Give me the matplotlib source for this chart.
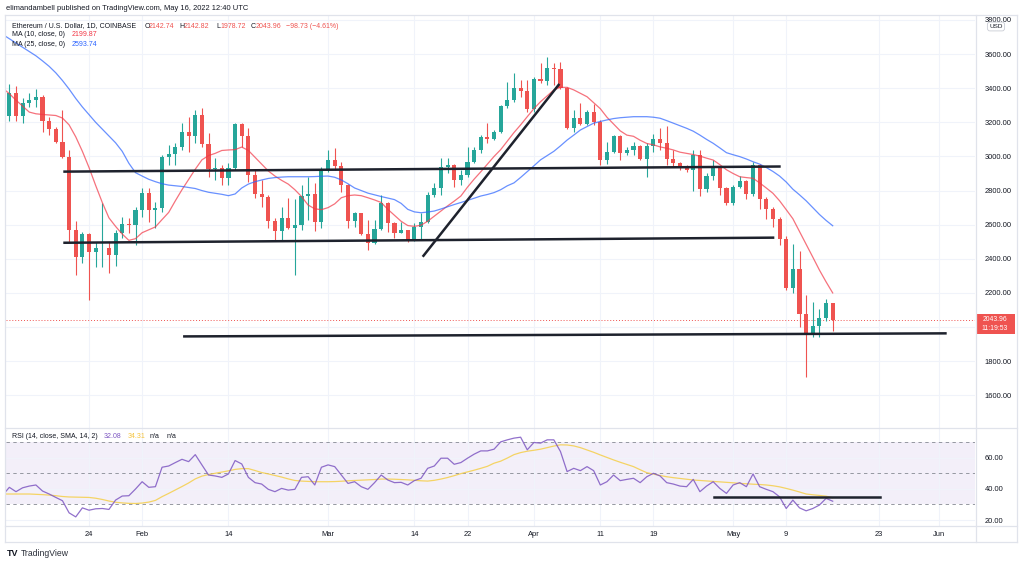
import matplotlib
matplotlib.use("Agg")
import matplotlib.pyplot as plt
import matplotlib.dates as mdates
from matplotlib.patches import Rectangle
from matplotlib.lines import Line2D
from matplotlib import transforms
import numpy as np
import pandas as pd

plt.rcParams["font.family"] = ["Liberation Sans", "DejaVu Sans"]

# ---- data (ETH/USD daily, Coinbase) ----
dates = pd.date_range("2022-01-11", "2022-05-16", freq="D")

opens = [3083, 3239, 3374, 3239, 3311, 3331, 3350, 3208, 3161, 3083,
         2999, 2569, 2412, 2544, 2442, 2462, 2465, 2422, 2550, 2604,
         2598, 2686, 2788, 2686, 2696, 2999, 3013, 3057, 3145, 3122,
         3243, 3071, 2926, 2931, 2872, 2931, 3190, 3120, 2891, 2780,
         2761, 2623, 2565, 2637, 2579, 2598, 2768, 2780, 2618, 2921,
         2979, 2944, 2833, 2623, 2667, 2545, 2491, 2573, 2725, 2608,
         2553, 2569, 2510, 2588, 2618, 2774, 2813, 2940, 2950, 2862,
         2891, 2969, 3038, 3112, 3102, 3145, 3296, 3331, 3403, 3384,
         3276, 3452, 3442, 3520, 3513, 3400, 3165, 3224, 3190, 3262,
         3204, 2979, 3028, 3120, 3018, 3038, 3061, 2983, 3061, 3101,
         3077, 2983, 2960, 2931, 2921, 3009, 2809, 2885, 2936, 2817,
         2725, 2823, 2856, 2780, 2950, 2749, 2690, 2632, 2514, 2227,
         2339, 2075, 1953, 2006, 2051, 2142.74]
highs = [3252, 3423, 3413, 3341, 3370, 3395, 3360, 3233, 3174, 3272,
         3038, 2622, 2559, 2549, 2500, 2725, 2500, 2569, 2647, 2640,
         2705, 2813, 2813, 2735, 3009, 3067, 3077, 3194, 3233, 3272,
         3282, 3136, 2989, 2950, 2960, 3194, 3195, 3165, 2921, 2862,
         2774, 2638, 2702, 2755, 2749, 2833, 2878, 2843, 2940, 3038,
         3048, 2969, 2836, 2676, 2670, 2628, 2628, 2774, 2735, 2618,
         2618, 2570, 2612, 2667, 2793, 2843, 2989, 2989, 2955, 2921,
         3054, 3057, 3126, 3194, 3155, 3302, 3435, 3487, 3448, 3448,
         3468, 3546, 3581, 3546, 3555, 3409, 3272, 3312, 3272, 3308,
         3214, 3087, 3126, 3126, 3057, 3087, 3067, 3077, 3132, 3165,
         3179, 3038, 2969, 2950, 3038, 3038, 2901, 2979, 2944, 2823,
         2833, 2885, 2862, 2969, 2955, 2761, 2705, 2647, 2534, 2485,
         2448, 2188, 2149, 2104, 2163, 2142.82]
lows = [3060, 3208, 3208, 3194, 3292, 3292, 3145, 3126, 3076, 2989,
        2500, 2305, 2374, 2159, 2354, 2354, 2315, 2360, 2520, 2549,
        2481, 2647, 2618, 2579, 2676, 2950, 2950, 3038, 3028, 3077,
        3057, 2881, 2862, 2833, 2833, 2921, 3057, 2852, 2755, 2702,
        2579, 2510, 2510, 2575, 2305, 2569, 2628, 2565, 2579, 2911,
        2920, 2793, 2579, 2588, 2540, 2452, 2487, 2569, 2559, 2520,
        2550, 2500, 2505, 2510, 2608, 2764, 2774, 2901, 2823, 2833,
        2881, 2960, 3018, 3077, 3096, 3136, 3282, 3321, 3350, 3262,
        3262, 3432, 3419, 3419, 3398, 3159, 3145, 3184, 3184, 3184,
        2950, 2956, 3018, 2979, 3009, 3009, 2979, 2881, 3028, 3038,
        2950, 2940, 2921, 2911, 2799, 2768, 2793, 2862, 2774, 2716,
        2715, 2813, 2749, 2768, 2690, 2632, 2588, 2481, 2217, 2201,
        2002, 1709, 1943, 1943, 2037, 1978.72]
closes = [3239, 3374, 3239, 3311, 3331, 3350, 3208, 3161, 3083, 2999,
          2569, 2412, 2544, 2442, 2462, 2465, 2422, 2550, 2604, 2598,
          2686, 2788, 2686, 2696, 2999, 3013, 3057, 3145, 3122, 3243,
          3071, 2926, 2931, 2872, 2931, 3190, 3120, 2891, 2780, 2761,
          2623, 2565, 2637, 2579, 2598, 2768, 2780, 2618, 2921, 2979,
          2944, 2833, 2623, 2667, 2545, 2491, 2573, 2725, 2608, 2553,
          2569, 2510, 2588, 2618, 2774, 2813, 2940, 2950, 2862, 2891,
          2969, 3038, 3112, 3102, 3145, 3296, 3331, 3403, 3384, 3276,
          3452, 3442, 3520, 3513, 3400, 3165, 3224, 3190, 3262, 3204,
          2979, 3028, 3120, 3018, 3038, 3061, 2983, 3061, 3101, 3077,
          2983, 2960, 2931, 2921, 3009, 2809, 2885, 2936, 2817, 2725,
          2823, 2856, 2780, 2950, 2749, 2690, 2632, 2514, 2227, 2339,
          2075, 1953, 2006, 2051, 2139, 2043.96]

ma10 = [3400, 3368, 3330, 3295, 3260, 3250, 3246, 3243, 3240, 3225,
        3185, 3115, 3030, 2935, 2830, 2730, 2640, 2590, 2545, 2508,
        2518, 2553, 2570, 2587, 2630, 2672, 2740, 2805, 2865, 2925,
        2980, 3005, 3018, 3035, 3038, 3040, 3055, 3035, 2995, 2955,
        2915, 2885, 2860, 2838, 2805, 2765, 2715, 2693, 2688, 2700,
        2722, 2758, 2770, 2774, 2770, 2758, 2745, 2730, 2690, 2655,
        2620, 2595, 2590, 2597, 2620, 2650, 2680, 2710, 2738, 2768,
        2820, 2867, 2910, 2955, 3000, 3040, 3090, 3140, 3185, 3233,
        3280, 3321, 3355, 3390, 3405, 3405, 3390, 3370, 3350, 3315,
        3280, 3230, 3190, 3150, 3125, 3118, 3095, 3076, 3068, 3056,
        3048, 3038, 3025, 3018, 3011, 3002, 2990, 2979, 2952, 2922,
        2900, 2881, 2876, 2872, 2845, 2815, 2784, 2740, 2688, 2635,
        2560, 2485, 2410, 2334, 2265, 2199.87]
ma25 = [3715, 3690, 3665, 3640, 3615, 3590, 3560, 3528, 3490, 3445,
        3395, 3340, 3290, 3245, 3200, 3160, 3120, 3080, 3030, 2960,
        2905, 2885, 2866, 2852, 2840, 2832, 2828, 2824, 2818, 2812,
        2800, 2790, 2784, 2778, 2770, 2780, 2815, 2838, 2852, 2862,
        2871, 2876, 2879, 2881, 2881, 2881, 2881, 2882, 2884, 2885,
        2878, 2862, 2840, 2815, 2800, 2785, 2775, 2765, 2756, 2747,
        2725, 2690, 2675, 2670, 2674, 2680, 2692, 2705, 2718, 2730,
        2742, 2755, 2768, 2777, 2788, 2805, 2828, 2845, 2877, 2911,
        2945, 2980, 3005, 3030, 3062, 3096, 3125, 3155, 3175, 3195,
        3205, 3214, 3222, 3227, 3230, 3233, 3233, 3233, 3230, 3224,
        3210, 3195, 3180, 3165, 3148, 3125, 3100, 3077, 3050, 3022,
        3010, 2999, 2985, 2969, 2955, 2935, 2912, 2885, 2850, 2808,
        2775, 2740, 2700, 2660, 2625, 2593.74]

rsi = [36.0, 41.0, 38.2, 40.7, 41.8, 42.5, 38.6, 36.7, 34.5, 32.4,
       24.6, 22.0, 27.8, 26.3, 27.2, 27.4, 26.8, 32.8, 35.4, 35.6,
       39.9, 44.6, 41.0, 41.4, 53.9, 54.7, 56.9, 59.0, 57.5, 62.0,
       55.4, 48.9, 48.3, 47.4, 49.6, 58.2, 56.0, 47.4, 44.0, 43.1,
       39.7, 38.2, 40.3, 39.2, 39.7, 47.4, 47.8, 42.5, 53.9, 55.4,
       54.3, 48.9, 43.5, 44.6, 41.4, 39.7, 44.0, 48.9, 45.7, 44.0,
       44.2, 42.5, 45.3, 46.8, 53.2, 54.7, 59.7, 59.7, 55.8, 56.9,
       59.7, 62.3, 64.4, 64.4, 65.5, 70.2, 71.5, 72.6, 73.2, 65.1,
       69.8, 69.4, 71.5, 71.5, 64.0, 51.1, 53.2, 51.7, 54.3, 51.7,
       42.5, 44.6, 48.9, 45.3, 46.1, 46.8, 44.0, 47.8, 50.0, 48.3,
       44.0, 43.1, 41.8, 41.4, 46.1, 38.2, 41.8, 44.6, 40.3, 37.1,
       42.5, 44.0, 41.4, 49.6, 41.4, 39.7, 38.2, 34.9, 27.4, 32.8,
       27.8, 25.9, 27.4, 29.6, 33.9, 32.08]
rsi_ma = [36.7, 36.7, 36.7, 36.7, 36.7, 36.5, 36.3, 36.0, 35.6, 35.1,
          34.8, 34.7, 34.6, 34.5, 34.0, 33.2, 32.2, 31.4, 31.0, 30.7,
          30.6, 30.9, 31.5, 32.6, 35.0, 37.1, 39.3, 41.5, 43.8, 46.4,
          48.2, 49.2, 50.0, 50.8, 51.6, 52.5, 53.0, 53.0, 51.8, 50.5,
          49.6, 48.6, 47.6, 46.4, 45.4, 45.0, 44.8, 44.6, 44.6, 44.6,
          44.7, 44.9, 45.2, 45.4, 45.6, 45.8, 46.0, 46.3, 46.3, 46.2,
          46.0, 45.8, 45.5, 45.2, 45.0, 45.5, 46.3, 47.3, 48.5, 49.8,
          50.9, 52.0, 53.2, 54.5, 56.5, 57.8, 59.8, 62.0, 63.3, 64.2,
          64.8, 65.5, 66.5, 67.5, 68.3, 68.2, 67.6, 66.5, 65.0, 63.5,
          61.8, 60.2, 58.6, 57.1, 55.7, 54.3, 52.3, 50.4, 49.5, 48.6,
          47.8, 47.2, 46.7, 46.2, 45.7, 45.4, 45.1, 44.8, 44.5, 44.2,
          43.9, 43.5, 43.3, 43.0, 42.8, 42.5, 42.0, 41.3, 40.3, 39.2,
          38.0, 36.7, 36.2, 35.8, 35.3, 34.31]

# hand drawn lines: (time, price) pairs
trend_lines = [
    [("2022-01-20 03:00", 2911), ("2022-05-08 04:00", 2941)],
    [("2022-01-20 03:00", 2494), ("2022-05-07 05:00", 2524)],
    [("2022-03-15 06:00", 2412), ("2022-04-04 20:00", 3425)],
    [("2022-02-07 04:00", 1945), ("2022-06-02 04:00", 1963)],
]
rsi_line = [("2022-04-28 02:00", 34.6), ("2022-05-23 02:00", 34.6)]

tick_dates = ["2022-01-24", "2022-02-01", "2022-02-14", "2022-03-01", "2022-03-14",
              "2022-03-22", "2022-04-01", "2022-04-11", "2022-04-19", "2022-05-01",
              "2022-05-09", "2022-05-23", "2022-06-01"]
tick_labels = ["24", "Feb", "14", "Mar", "14", "22", "Apr", "11", "19", "May", "9", "23", "Jun"]
price_ticks = [1600, 1800, 2000, 2200, 2400, 2600, 2800, 3000, 3200, 3400, 3600, 3800]
hidden_price_label = 2000  # covered by the last-price tag
rsi_ticks = [20, 40, 60]

# ---- style ----
UP, DOWN = "#26a69a", "#ef5350"
TXT = "#131722"
GRID = "#f0f3fa"
BORDER = "#e0e3eb"
FS = 5.4   # axis labels
LFS = 5.0  # legend lines

W, H = 1024, 565
fig = plt.figure(figsize=(W / 100, H / 100), dpi=100)
fig.patch.set_facecolor("white")


def fx(px):
    return px / W


def fy(py):
    return 1 - py / H


ax = fig.add_axes([fx(6), fy(427.7), 969 / W, 411.5 / H])
ax_rsi = fig.add_axes([fx(6), fy(526), 969 / W, 98.3 / H], sharex=ax)

x = mdates.date2num(dates)
o = np.array(opens, float)
h = np.array(highs, float)
l = np.array(lows, float)
c = np.array(closes, float)
colors = np.where(c >= o, UP, DOWN)

# candles
ax.vlines(x, l, h, colors=colors, lw=0.8, zorder=3)
body = np.maximum(np.abs(c - o), 4)
ax.bar(x, body, bottom=np.minimum(o, c), width=0.62, color=colors, lw=0, zorder=4)

ax.plot(x, ma10, color="#f23645", lw=0.9, alpha=0.7, zorder=5)
ax.plot(x, ma25, color="#2962ff", lw=0.9, alpha=0.7, zorder=5)

for seg in trend_lines:
    tx = [mdates.date2num(pd.Timestamp(t)) for t, _ in seg]
    ty = [v for _, v in seg]
    ax.plot(tx, ty, color="#1e222d", lw=1.8, solid_capstyle="butt", zorder=6)

last = closes[-1]
ax.axhline(last, color=DOWN, lw=0.7, ls=(0, (1, 2)), zorder=2)

x0 = mdates.date2num(pd.Timestamp("2022-01-11")) + 0.497
x1 = mdates.date2num(pd.Timestamp("2022-06-06")) + 0.43
ax.set_xlim(x0, x1)
ax.set_ylim(1409.9, 3822.1)

ax.set_yticks(price_ticks)
ax.set_yticklabels(["" if v == hidden_price_label else f"{v:.2f}" for v in price_ticks])
ax.yaxis.tick_right()
ax.tick_params(axis="y", length=0, pad=7, labelsize=FS, labelcolor=TXT)
tick_x = [mdates.date2num(pd.Timestamp(d)) for d in tick_dates]
ax.set_xticks(tick_x)
ax.tick_params(axis="x", length=0, labelbottom=False)
ax.grid(True, color=GRID, lw=0.8, zorder=0)
for s in ax.spines.values():
    s.set_visible(False)

# current price tag on the scale
blend = transforms.blended_transform_factory(ax.transAxes, ax.transData)
upp = (3822.1 - 1409.9) / 411.5  # price per pixel
ax.add_patch(Rectangle((1.001, last - 14 * upp), 39 / 969, 19.5 * upp, transform=blend,
                       facecolor=DOWN, edgecolor="none", clip_on=False, zorder=10))
ax.text(1 + 20 / 969, last + 0.5 * upp, f"{last:.2f}", transform=blend, ha="center",
        va="center", color="white", fontsize=4.9, clip_on=False, zorder=11)
ax.text(1 + 20 / 969, last - 8.6 * upp, "11:19:53", transform=blend, ha="center",
        va="center", color="white", fontsize=4.9, clip_on=False, zorder=11)

# ---- RSI pane ----
ax_rsi.axhspan(30, 70, color="#7e57c2", alpha=0.09, lw=0, zorder=1)
for lev in (30, 50, 70):
    ax_rsi.axhline(lev, color="#9598a1", lw=0.7, ls=(0, (3.5, 3.5)), zorder=2)
ax_rsi.plot(x, rsi_ma, color="#f5cf4a", lw=0.9, alpha=0.85, zorder=4)
ax_rsi.plot(x, rsi, color="#7e57c2", lw=0.9, alpha=0.85, zorder=5)
rx = [mdates.date2num(pd.Timestamp(t)) for t, _ in rsi_line]
ax_rsi.plot(rx, [v for _, v in rsi_line], color="#1e222d", lw=1.8, zorder=6)

ax_rsi.set_ylim(16.15, 79.3)
ax_rsi.set_yticks(rsi_ticks)
ax_rsi.set_yticklabels([f"{v:.2f}" for v in rsi_ticks])
ax_rsi.yaxis.tick_right()
ax_rsi.tick_params(axis="y", length=0, pad=7, labelsize=FS, labelcolor=TXT)
ax_rsi.set_xticks(tick_x)
ax_rsi.set_xticklabels(tick_labels)
ax_rsi.tick_params(axis="x", length=0, pad=3.5, labelsize=FS, labelcolor=TXT)
ax_rsi.grid(True, color=GRID, lw=0.8, zorder=0)
for s in ax_rsi.spines.values():
    s.set_visible(False)

# ---- frame ----
def hline(py, xa=5, xb=1017):
    fig.add_artist(Line2D([fx(xa), fx(xb)], [fy(py), fy(py)], color=BORDER, lw=0.9))


def vline(px, ya=15, yb=542):
    fig.add_artist(Line2D([fx(px), fx(px)], [fy(ya), fy(yb)], color=BORDER, lw=0.9))


for py in (15, 427.7, 526, 542):
    hline(py)
for px in (5, 975.5, 1017):
    vline(px)

fig.text(fx(996), fy(26.5), "USD", ha="center", va="center", fontsize=4.6, color=TXT,
         bbox=dict(boxstyle="round,pad=0.3,rounding_size=0.4", fc="white", ec="#c9ccd4", lw=0.6),
         zorder=12)

# ---- header and legends ----
fig.text(fx(6.5), fy(9), "elimandambell published on TradingView.com, May 16, 2022 12:40 UTC",
         fontsize=FS, color=TXT, va="center")

fig.text(fx(11.7), fy(26), "Ethereum / U.S. Dollar, 1D, COINBASE", fontsize=LFS, color=TXT, va="center")
ohlc_parts = [("O", 144.3), ("H", 179.3), ("L", 216), ("C", 250.7)]
ohlc_vals = [opens[-1], highs[-1], lows[-1], closes[-1]]
for (lab, px), v in zip(ohlc_parts, ohlc_vals):
    fig.text(fx(px), fy(26), lab, fontsize=LFS, color=TXT, va="center")
    fig.text(fx(px + 4.6), fy(26), f"{v:.2f}", fontsize=LFS, color=DOWN, va="center")
fig.text(fx(286), fy(26), "\u221298.73 (\u22124.61%)", fontsize=LFS, color=DOWN, va="center")

fig.text(fx(11.7), fy(35), "MA (10, close, 0)", fontsize=LFS, color=TXT, va="center")
fig.text(fx(72), fy(35), f"{ma10[-1]:.2f}", fontsize=LFS, color="#f23645", va="center")
fig.text(fx(11.7), fy(44.7), "MA (25, close, 0)", fontsize=LFS, color=TXT, va="center")
fig.text(fx(72), fy(44.7), f"{ma25[-1]:.2f}", fontsize=LFS, color="#2962ff", va="center")

fig.text(fx(11.7), fy(436.7), "RSI (14, close, SMA, 14, 2)", fontsize=LFS, color=TXT, va="center")
fig.text(fx(104), fy(436.7), f"{rsi[-1]:.2f}", fontsize=LFS, color="#7e57c2", va="center")
fig.text(fx(128), fy(436.7), f"{rsi_ma[-1]:.2f}", fontsize=LFS, color="#f5c33b", va="center")
fig.text(fx(150), fy(436.7), "n/a", fontsize=LFS, color=TXT, va="center")
fig.text(fx(167), fy(436.7), "n/a", fontsize=LFS, color=TXT, va="center")

# TradingView mark
fig.text(fx(7), fy(553), "TV", fontsize=6.5, fontweight="bold", color=TXT, va="center")
fig.text(fx(21), fy(553), "TradingView", fontsize=6.2, color="#2a2e39", va="center")

fig.savefig("out.png", dpi=100, facecolor="white")
